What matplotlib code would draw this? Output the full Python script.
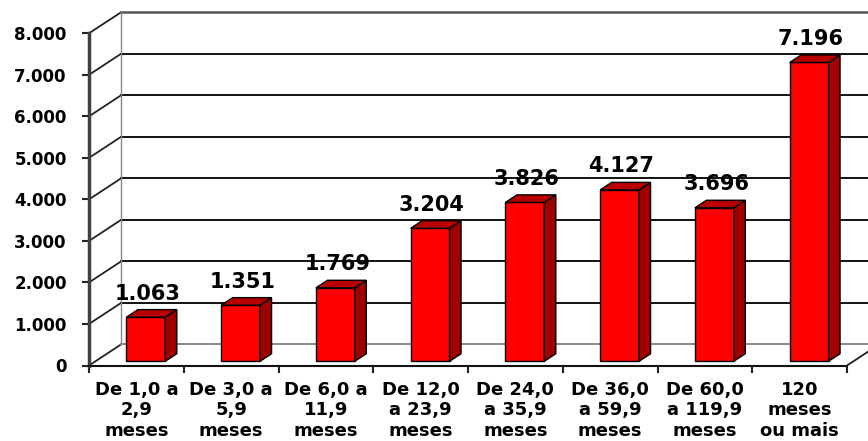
import matplotlib
matplotlib.use("Agg")
import matplotlib.pyplot as plt
from matplotlib.patches import Polygon

# --- datos ---
categorias = ["De 1,0 a\n2,9\nmeses", "De 3,0 a\n5,9\nmeses", "De 6,0 a\n11,9\nmeses",
              "De 12,0\na 23,9\nmeses", "De 24,0\na 35,9\nmeses", "De 36,0\na 59,9\nmeses",
              "De 60,0\na 119,9\nmeses", "120\nmeses\nou mais"]
valores = [1063, 1351, 1769, 3204, 3826, 4127, 3696, 7196]
etiquetas = ["1.063", "1.351", "1.769", "3.204", "3.826", "4.127", "3.696", "7.196"]
ticks_y = [0, 1000, 2000, 3000, 4000, 5000, 6000, 7000, 8000]
ticks_y_txt = ["0", "1.000", "2.000", "3.000", "4.000", "5.000", "6.000", "7.000", "8.000"]

fig = plt.figure(figsize=(8.68, 4.41), dpi=100)
ax = fig.add_axes([89 / 868, (441 - 365.5) / 441, (847 - 89) / 868, (365.5 - 33.3) / 441])
ax.set_xlim(0, 8)
ax.set_ylim(0, 8000)

# profundidad de la "pared" 3D (en unidades de datos)
DX = 32 / 94.75
DY = 21 / 41.5 * 1000

# pared del fondo y líneas de rejilla
for v in ticks_y:
    col = "#111111" if v > 0 else "#888888"
    ax.plot([0, DX], [v, v + DY], color="#222222", lw=1.3, clip_on=False, zorder=1)
    ax.plot([DX, 8 + DX + 1], [v + DY, v + DY], color=col if v < 8000 else "#555555",
            lw=1.4 if v < 8000 else 1.8, clip_on=False, zorder=1)
ax.plot([DX, DX], [DY, 8000 + DY], color="#888888", lw=1, clip_on=False, zorder=1)
ax.plot([8, 8 + DX], [0, DY], color="#222222", lw=1.3, clip_on=False, zorder=1)

# barras con caras laterales y superiores
ancho = 0.41
base = 0.2 * DY
bdx = 0.36 * DX
bdy = 0.36 * DY
xs = [i + 0.6 for i in range(len(valores))]
ax.bar(xs, valores, width=ancho, bottom=base, color="#FF0000", edgecolor="black",
       linewidth=1, zorder=3, clip_on=False)
for x, v, t in zip(xs, valores, etiquetas):
    xl, xr, top = x - ancho / 2, x + ancho / 2, base + v
    lado = Polygon([(xr, base), (xr + bdx, base + bdy), (xr + bdx, top + bdy), (xr, top)],
                   closed=True, facecolor="#A00000", edgecolor="black", lw=1, zorder=3,
                   clip_on=False)
    tapa = Polygon([(xl, top), (xl + bdx, top + bdy), (xr + bdx, top + bdy), (xr, top)],
                   closed=True, facecolor="#B80000", edgecolor="black", lw=1, zorder=3,
                   clip_on=False)
    ax.add_patch(lado)
    ax.add_patch(tapa)
    ax.text(x + 0.02, top + bdy + 240, t, ha="center", va="baseline", fontsize=15,
            fontweight="bold", color="black", zorder=4, clip_on=False)

# ejes
for s in ["top", "right"]:
    ax.spines[s].set_visible(False)
ax.spines["left"].set_color("#404040")
ax.spines["left"].set_linewidth(2.5)
ax.spines["bottom"].set_color("#111111")
ax.spines["bottom"].set_linewidth(1.5)

ax.set_yticks(ticks_y)
ax.set_yticklabels(ticks_y_txt, fontsize=12, fontweight="bold")
ax.tick_params(axis="y", length=5, width=1.5, color="#222222", pad=11)

ax.set_xticks([i + 0.5 for i in range(len(categorias))])
ax.set_xticklabels(categorias, fontsize=13, fontweight="bold", linespacing=1.18)
ax.set_xticks(range(0, 9), minor=True)
ax.tick_params(axis="x", which="major", length=0, pad=11)
ax.tick_params(axis="x", which="minor", length=5, width=1.5, color="#222222")

fig.savefig("out.png", dpi=100)
